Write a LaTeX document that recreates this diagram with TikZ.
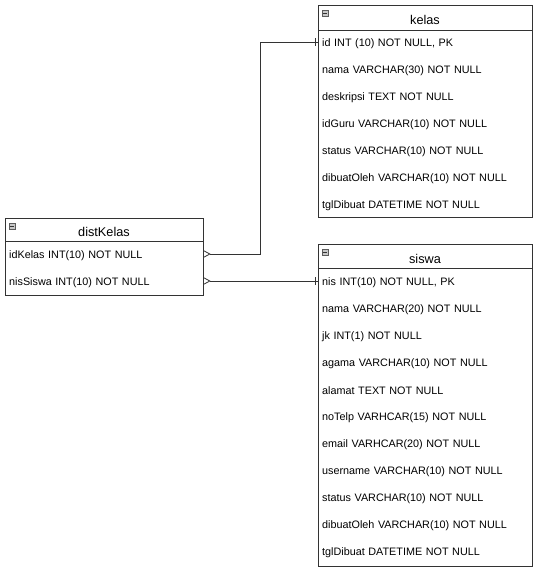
\documentclass[tikz,border=0pt]{standalone}
\usepackage{fontspec}
\setmainfont{Liberation Sans}
\usetikzlibrary{positioning, arrows.meta, calc, shadows}
\definecolor{erLine}{HTML}{333333}
\definecolor{erIcon}{HTML}{C8C8C8}

\tikzset{
  tablebox/.style={draw=erLine, fill=white, line width=0.8pt, anchor=north west,
    inner sep=0pt, drop shadow={opacity=0.3, shadow xshift=1pt, shadow yshift=-1pt}},
  tabletitle/.style={font=\fontsize{12.7}{14}\selectfont, inner sep=0pt},
  rowtext/.style={font=\fontsize{10.8}{12}\selectfont, anchor=west, align=left,
    inner xsep=4pt, inner ysep=0pt, minimum height=14pt},
  foldicon/.style={draw=erLine!80, fill=erIcon, line width=0.5pt},
  relline/.style={draw=erLine, line width=0.8pt},
  many/.style={{Straight Barb[reversed, length=6pt, width=6.5pt, line width=0.8pt]}-},
}

\begin{document}
\begin{tikzpicture}[x=1pt, y=-1pt]
    \useasboundingbox (0,0) rectangle (538,570);

    % tabel kelas
    \node[tablebox, minimum width=214pt, minimum height=212pt] (kelas) at (318,5) {};
    \draw[erLine, line width=0.8pt] ($(kelas.north west)+(0,25)$) -- ($(kelas.north east)+(0,25)$);
    \node[tabletitle] (kelasT) at (425,19.5) {kelas};
    \filldraw[foldicon] (322,10) rectangle (328,16);
    \draw[erLine, line width=0.6pt] (323.2,13) -- (326.8,13);
    \foreach \t [count=\i] in {{id INT (10) NOT NULL, PK}, nama VARCHAR(30) NOT NULL,
        deskripsi TEXT NOT NULL, idGuru VARCHAR(10) NOT NULL, status VARCHAR(10) NOT NULL,
        dibuatOleh VARCHAR(10) NOT NULL, tglDibuat DATETIME NOT NULL}
      \node[rowtext, text width=206pt] (kelas\i) at (318,{43.5+27*(\i-1)}) {\t};

    % tabel distKelas
    \node[tablebox, minimum width=198pt, minimum height=77pt] (dist) at (5,218) {};
    \draw[erLine, line width=0.8pt] ($(dist.north west)+(0,23)$) -- ($(dist.north east)+(0,23)$);
    \node[tabletitle] (distT) at (104,231.5) {distKelas};
    \filldraw[foldicon] (9,223) rectangle (15,229);
    \draw[erLine, line width=0.6pt] (10.2,226) -- (13.8,226);
    \foreach \t [count=\i] in {idKelas INT(10) NOT NULL, nisSiswa INT(10) NOT NULL}
      \node[rowtext, text width=190pt] (dist\i) at (5,{255.5+27*(\i-1)}) {\t};

    % tabel siswa
    \node[tablebox, minimum width=214pt, minimum height=322pt] (siswa) at (318,244) {};
    \draw[erLine, line width=0.8pt] ($(siswa.north west)+(0,24)$) -- ($(siswa.north east)+(0,24)$);
    \node[tabletitle] (siswaT) at (425,258.5) {siswa};
    \filldraw[foldicon] (322,249) rectangle (328,255);
    \draw[erLine, line width=0.6pt] (323.2,252) -- (326.8,252);
    \foreach \t [count=\i] in {{nis INT(10) NOT NULL, PK}, nama VARCHAR(20) NOT NULL,
        jk INT(1) NOT NULL, agama VARCHAR(10) NOT NULL, alamat TEXT NOT NULL,
        noTelp VARHCAR(15) NOT NULL, email VARHCAR(20) NOT NULL,
        username VARCHAR(10) NOT NULL, status VARCHAR(10) NOT NULL,
        dibuatOleh VARCHAR(10) NOT NULL, tglDibuat DATETIME NOT NULL}
      \node[rowtext, text width=206pt] (siswa\i) at (318,{282.5+27*(\i-1)}) {\t};

    % relasi
    \coordinate (kelasIn) at ($(kelas1.west)+(0,-1.5)$);
    \coordinate (siswaIn) at ($(siswa1.west)+(0,-1.5)$);
    \draw[relline, many] ($(dist1.east)+(0,-1.5)$) -- ++(57,0) |- (kelasIn);
    \draw[relline] ($(kelasIn)+(-3,-4)$) -- ++(0,8);
    \draw[relline, many] ($(dist2.east)+(0,-1.5)$) -- (siswaIn);
    \draw[relline] ($(siswaIn)+(-3,-4)$) -- ++(0,8);
\end{tikzpicture}
\end{document}
